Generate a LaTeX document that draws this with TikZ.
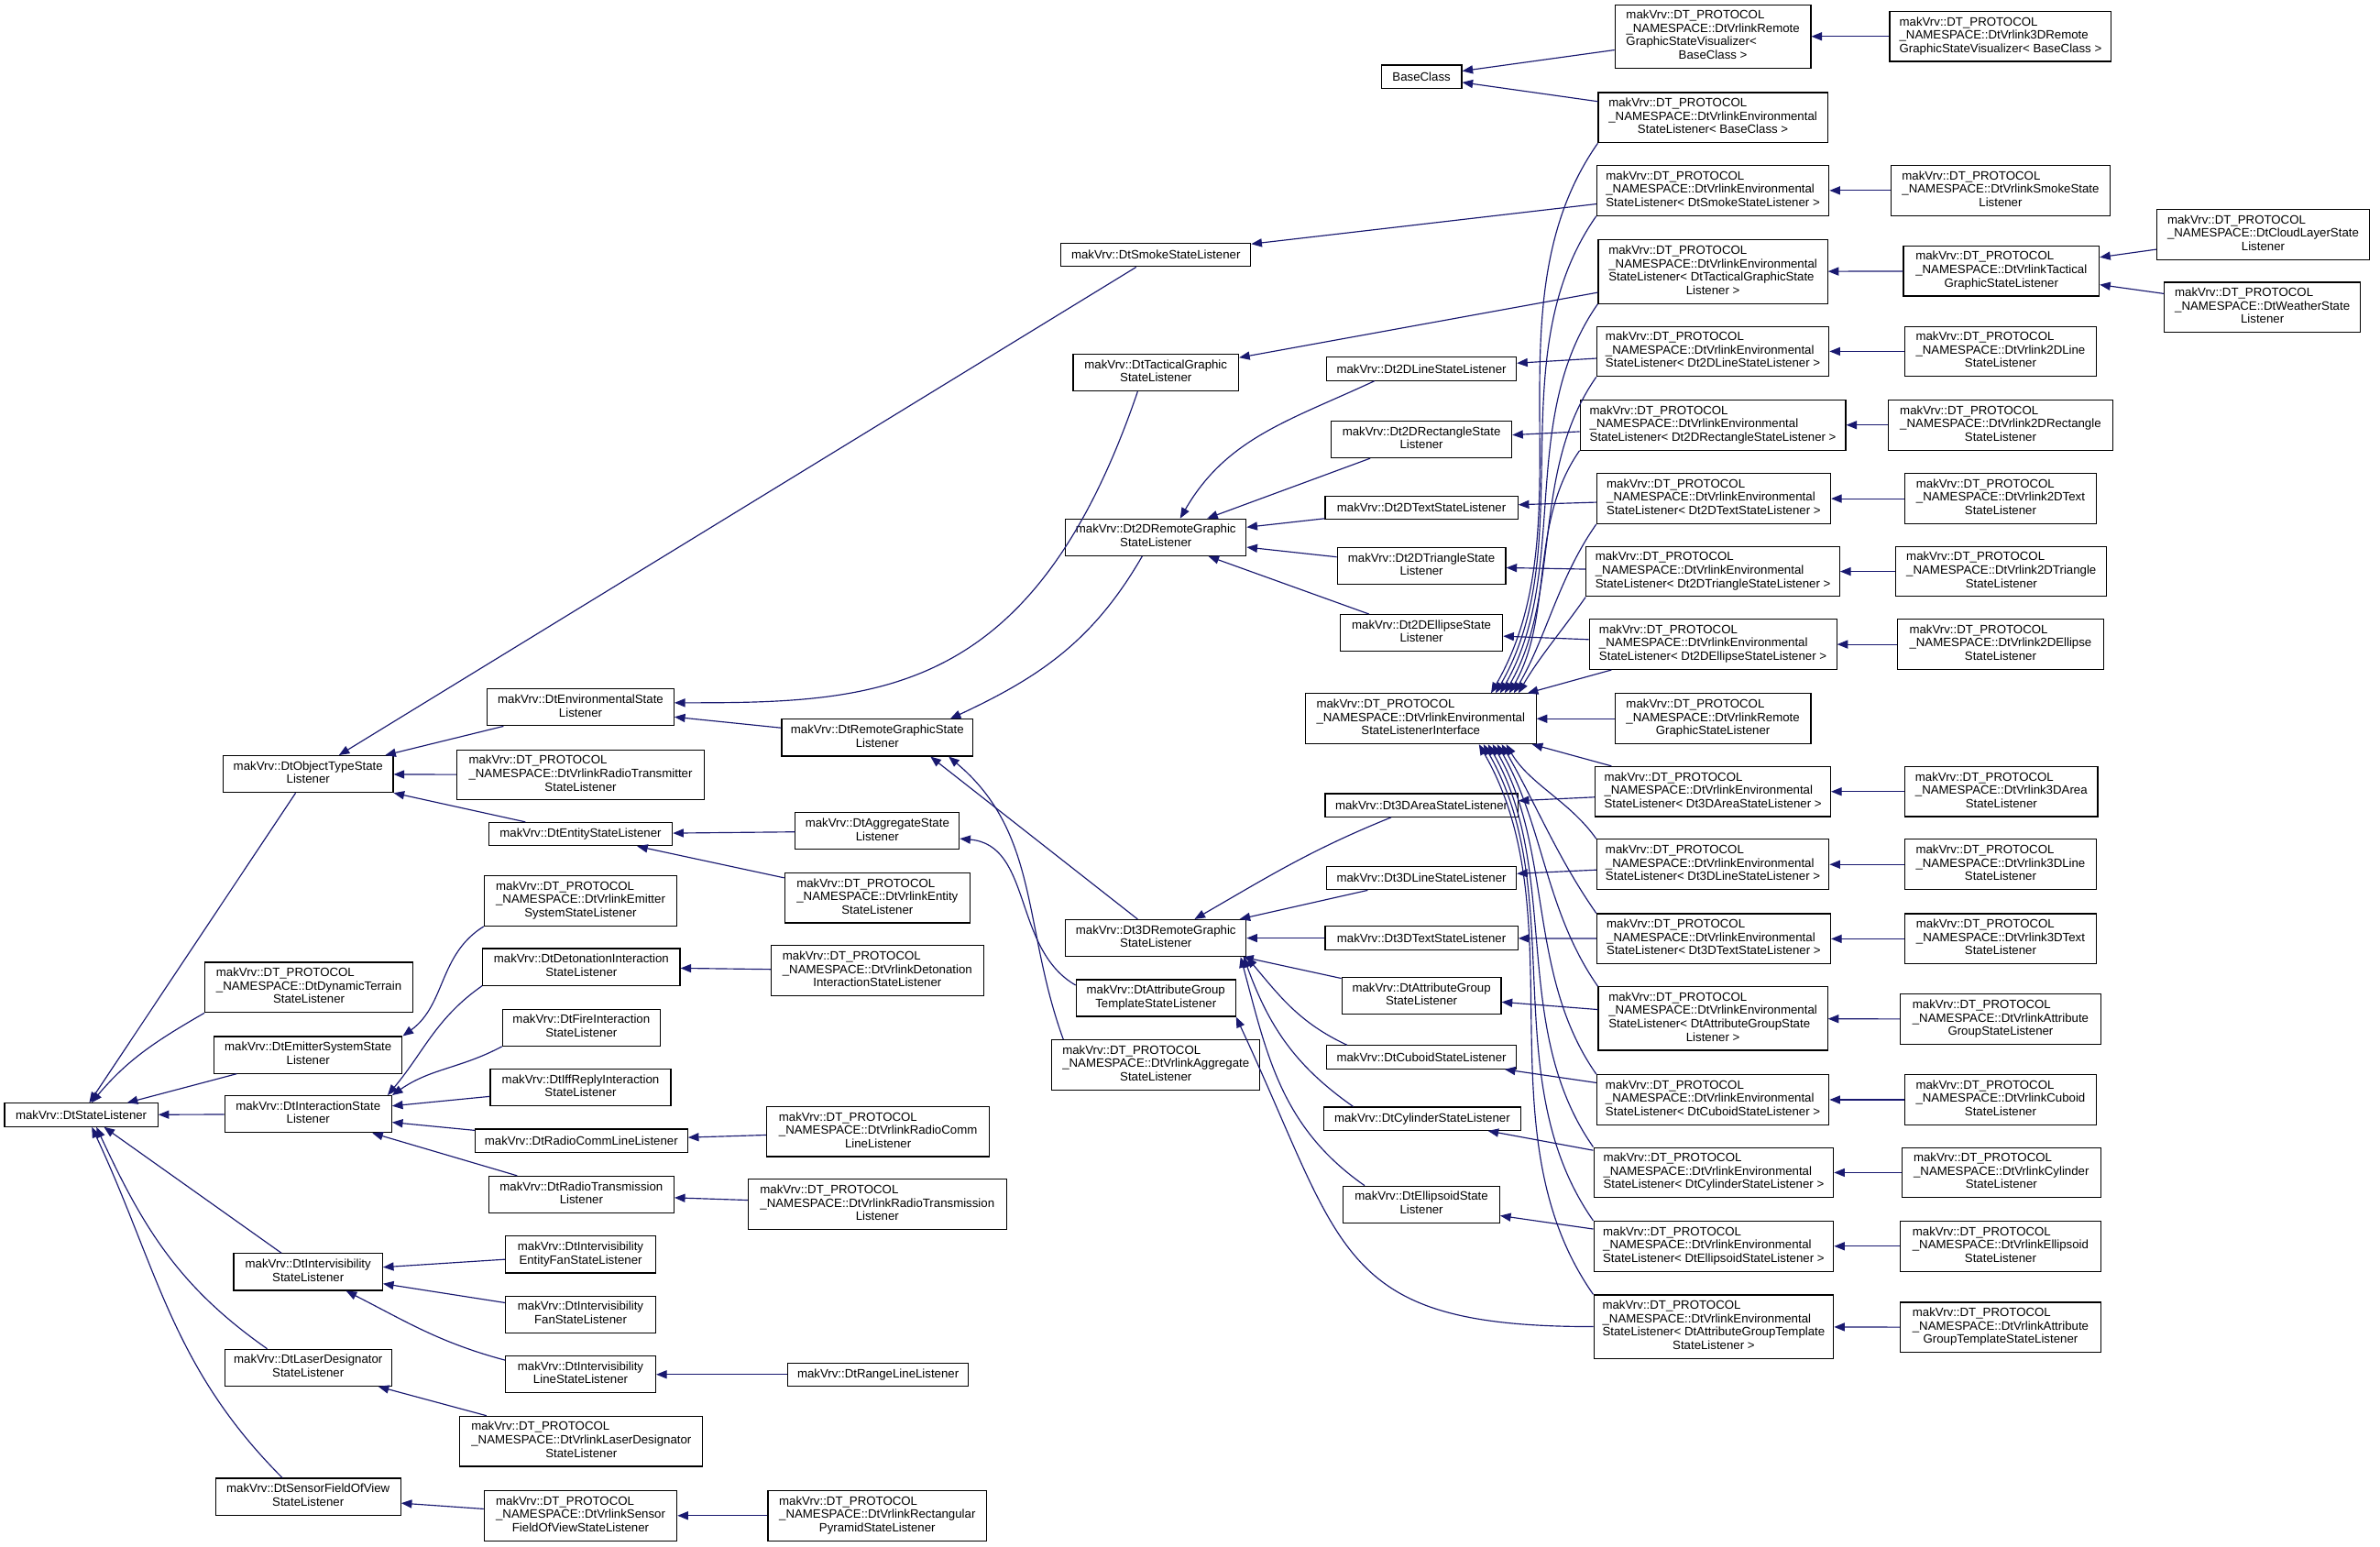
\documentclass[tikz,border=0pt]{standalone}
\usepackage{fontspec}
\setmainfont{Liberation Sans}
\usetikzlibrary{arrows.meta}
\definecolor{midnight}{RGB}{25,25,112}
\newcommand{\clsfont}{\fontsize{8pt}{8.8pt}\selectfont}
\newcommand{\dtp}{makVrv::DT\_PROTOCOL\\\_NAMESPACE::}
\newcommand{\lbl}[2]{\begin{tabular}{@{}l@{}}#1\\\multicolumn{1}{@{}c@{}}{#2}\end{tabular}}
\newcommand{\envl}[1]{\lbl{\dtp DtVrlinkEnvironmental}{#1}}
\tikzset{
  cls/.style={draw, fill=white, line width=0.7pt, inner xsep=2pt, inner ysep=3.3pt, minimum height=15.3pt, font=\clsfont},
  inh/.style={draw=midnight, line width=0.7pt, -{Triangle[length=7pt,width=5.5pt]}},
  fandown/.style={out=235, in=60, looseness=0.9},
  fanup/.style={out=125, in=-60, looseness=0.9},
}
\begin{document}
\begin{tikzpicture}[x=1pt, y=-1pt]
\useasboundingbox (0,0) rectangle (1568,1019);
\node[cls, minimum width=101pt] (stateL) at (53.5,734.5) {makVrv::DtStateListener};
\node[cls, minimum width=112pt] (objType) at (203,510) {\lbl{makVrv::DtObjectTypeState}{Listener}};
\node[cls, minimum width=137pt] (dynTerrain) at (203.5,650.5) {\lbl{\dtp DtDynamicTerrain}{StateListener}};
\node[cls, minimum width=124pt] (emitter) at (203,695) {\lbl{makVrv::DtEmitterSystemState}{Listener}};
\node[cls, minimum width=110pt] (interaction) at (203,734) {\lbl{makVrv::DtInteractionState}{Listener}};
\node[cls, minimum width=98pt] (intervis) at (203,838) {\lbl{makVrv::DtIntervisibility}{StateListener}};
\node[cls, minimum width=110pt] (laser) at (203,901) {\lbl{makVrv::DtLaserDesignator}{StateListener}};
\node[cls, minimum width=122pt] (sensor) at (203,986) {\lbl{makVrv::DtSensorFieldOfView}{StateListener}};
\node[cls, minimum width=123pt] (envState) at (382.5,466) {\lbl{makVrv::DtEnvironmentalState}{Listener}};
\node[cls, minimum width=163pt] (radioTx) at (382.5,510.5) {\lbl{\dtp DtVrlinkRadioTransmitter}{StateListener}};
\node[cls, minimum width=121pt] (entityState) at (382.5,549.5) {makVrv::DtEntityStateListener};
\node[cls, minimum width=127pt] (vrlEmitter) at (382.5,593.5) {\lbl{\dtp DtVrlinkEmitter}{SystemStateListener}};
\node[cls, minimum width=130pt] (detonation) at (383,637) {\lbl{makVrv::DtDetonationInteraction}{StateListener}};
\node[cls, minimum width=104pt] (fire) at (383,677) {\lbl{makVrv::DtFireInteraction}{StateListener}};
\node[cls, minimum width=119pt] (iff) at (382.5,716.5) {\lbl{makVrv::DtIffReplyInteraction}{StateListener}};
\node[cls, minimum width=140pt] (radioComm) at (383,751.5) {makVrv::DtRadioCommLineListener};
\node[cls, minimum width=122pt] (radioTrans) at (383,787) {\lbl{makVrv::DtRadioTransmission}{Listener}};
\node[cls, minimum width=99pt] (ivEntityFan) at (382.5,826.5) {\lbl{makVrv::DtIntervisibility}{EntityFanStateListener}};
\node[cls, minimum width=99pt] (ivFan) at (382.5,866) {\lbl{makVrv::DtIntervisibility}{FanStateListener}};
\node[cls, minimum width=99pt] (ivLine) at (382.5,905.5) {\lbl{makVrv::DtIntervisibility}{LineStateListener}};
\node[cls, minimum width=160pt] (vrlLaser) at (383,949.5) {\lbl{\dtp DtVrlinkLaserDesignator}{StateListener}};
\node[cls, minimum width=127pt] (vrlSensor) at (382.5,998.5) {\lbl{\dtp DtVrlinkSensor}{FieldOfViewStateListener}};
\node[cls, minimum width=126pt] (remoteGraphic) at (578,486) {\lbl{makVrv::DtRemoteGraphicState}{Listener}};
\node[cls, minimum width=108pt] (aggState) at (578,547.5) {\lbl{makVrv::DtAggregateState}{Listener}};
\node[cls, minimum width=122pt] (vrlEntity) at (578,591.5) {\lbl{\dtp DtVrlinkEntity}{StateListener}};
\node[cls, minimum width=140pt] (vrlDetonation) at (578,639.5) {\lbl{\dtp DtVrlinkDetonation}{InteractionStateListener}};
\node[cls, minimum width=147pt] (vrlRadioComm) at (578.5,745.5) {\lbl{\dtp DtVrlinkRadioComm}{LineListener}};
\node[cls, minimum width=170pt] (vrlRadioTrans) at (578,793.5) {\lbl{\dtp DtVrlinkRadioTransmission}{Listener}};
\node[cls, minimum width=119pt] (rangeLine) at (578.5,905.5) {makVrv::DtRangeLineListener};
\node[cls, minimum width=144pt] (vrlRectPyr) at (578,998.5) {\lbl{\dtp DtVrlinkRectangular}{PyramidStateListener}};
\node[cls, minimum width=125pt] (smokeState) at (761.5,168) {makVrv::DtSmokeStateListener};
\node[cls, minimum width=109pt] (tactical) at (761.5,245.5) {\lbl{makVrv::DtTacticalGraphic}{StateListener}};
\node[cls, minimum width=119pt] (dt2DRemote) at (761.5,354) {\lbl{makVrv::Dt2DRemoteGraphic}{StateListener}};
\node[cls, minimum width=119pt] (dt3DRemote) at (761.5,618) {\lbl{makVrv::Dt3DRemoteGraphic}{StateListener}};
\node[cls, minimum width=105pt] (attrTemplate) at (761.5,657.5) {\lbl{makVrv::DtAttributeGroup}{TemplateStateListener}};
\node[cls, minimum width=137pt] (vrlAggregate) at (761.5,701.5) {\lbl{\dtp DtVrlinkAggregate}{StateListener}};
\node[cls, minimum width=53pt] (baseClass) at (936.5,50.5) {BaseClass};
\node[cls, minimum width=125pt] (dt2DLine) at (936.5,243) {makVrv::Dt2DLineStateListener};
\node[cls, minimum width=119pt] (dt2DRect) at (936.5,289.5) {\lbl{makVrv::Dt2DRectangleState}{Listener}};
\node[cls, minimum width=127pt] (dt2DText) at (936.5,334.5) {makVrv::Dt2DTextStateListener};
\node[cls, minimum width=111pt] (dt2DTri) at (936.5,373) {\lbl{makVrv::Dt2DTriangleState}{Listener}};
\node[cls, minimum width=107pt] (dt2DEllipse) at (936.5,417) {\lbl{makVrv::Dt2DEllipseState}{Listener}};
\node[cls, minimum width=152pt] (envIf) at (936,473.5) {\lbl{\dtp DtVrlinkEnvironmental}{StateListenerInterface}};
\node[cls, minimum width=127pt] (dt3DArea) at (936.5,530.5) {makVrv::Dt3DAreaStateListener};
\node[cls, minimum width=125pt] (dt3DLine) at (936.5,578.5) {makVrv::Dt3DLineStateListener};
\node[cls, minimum width=127pt] (dt3DText) at (936.5,618) {makVrv::Dt3DTextStateListener};
\node[cls, minimum width=105pt] (attrGroup) at (936.5,656) {\lbl{makVrv::DtAttributeGroup}{StateListener}};
\node[cls, minimum width=125pt] (cuboid) at (936.5,696.5) {makVrv::DtCuboidStateListener};
\node[cls, minimum width=130pt] (cylinder) at (937,737) {makVrv::DtCylinderStateListener};
\node[cls, minimum width=103pt] (ellipsoid) at (936.5,793.5) {\lbl{makVrv::DtEllipsoidState}{Listener}};
\node[cls, minimum width=129pt] (vrlRemoteGSV) at (1128.5,24) {\lbl{\dtp DtVrlinkRemote\\GraphicStateVisualizer<}{BaseClass >}};
\node[cls, minimum width=151pt] (envBase) at (1128.5,77.5) {\envl{StateListener< BaseClass >}};
\node[cls, minimum width=153pt] (envSmoke) at (1128.5,125.5) {\envl{StateListener< DtSmokeStateListener >}};
\node[cls, minimum width=151pt] (envTactical) at (1128.5,179) {\lbl{\dtp DtVrlinkEnvironmental\\StateListener< DtTacticalGraphicState}{Listener >}};
\node[cls, minimum width=153pt] (env2DLine) at (1128.5,231.5) {\envl{StateListener< Dt2DLineStateListener >}};
\node[cls, minimum width=175pt] (env2DRect) at (1128.5,280) {\envl{StateListener< Dt2DRectangleStateListener >}};
\node[cls, minimum width=154pt] (env2DText) at (1129,328.5) {\envl{StateListener< Dt2DTextStateListener >}};
\node[cls, minimum width=167pt] (env2DTri) at (1128.5,376.5) {\envl{StateListener< Dt2DTriangleStateListener >}};
\node[cls, minimum width=163pt] (env2DEllipse) at (1128.5,424.5) {\envl{StateListener< Dt2DEllipseStateListener >}};
\node[cls, minimum width=129pt] (vrlRemoteGSL) at (1128.5,473.5) {\lbl{\dtp DtVrlinkRemote}{GraphicStateListener}};
\node[cls, minimum width=155pt] (env3DArea) at (1128.5,521.5) {\envl{StateListener< Dt3DAreaStateListener >}};
\node[cls, minimum width=153pt] (env3DLine) at (1128.5,569.5) {\envl{StateListener< Dt3DLineStateListener >}};
\node[cls, minimum width=154pt] (env3DText) at (1129,618.5) {\envl{StateListener< Dt3DTextStateListener >}};
\node[cls, minimum width=151pt] (envAttrGroup) at (1128.5,671) {\lbl{\dtp DtVrlinkEnvironmental\\StateListener< DtAttributeGroupState}{Listener >}};
\node[cls, minimum width=153pt] (envCuboid) at (1128.5,724.5) {\envl{StateListener< DtCuboidStateListener >}};
\node[cls, minimum width=158pt] (envCylinder) at (1129,772.5) {\envl{StateListener< DtCylinderStateListener >}};
\node[cls, minimum width=158pt] (envEllipsoid) at (1129,821) {\envl{StateListener< DtEllipsoidStateListener >}};
\node[cls, minimum width=158pt] (envAttrTemplate) at (1129,874) {\lbl{\dtp DtVrlinkEnvironmental\\StateListener< DtAttributeGroupTemplate}{StateListener >}};
\node[cls, minimum width=146pt] (vrl3DRemoteGSV) at (1318,24) {\lbl{\dtp DtVrlink3DRemote}{GraphicStateVisualizer< BaseClass >}};
\node[cls, minimum width=144pt] (vrlSmoke) at (1318,125.5) {\lbl{\dtp DtVrlinkSmokeState}{Listener}};
\node[cls, minimum width=129pt] (vrlTactical) at (1318.5,178.5) {\lbl{\dtp DtVrlinkTactical}{GraphicStateListener}};
\node[cls, minimum width=126pt] (vrl2DLine) at (1318,231.5) {\lbl{\dtp DtVrlink2DLine}{StateListener}};
\node[cls, minimum width=148pt] (vrl2DRect) at (1318,280) {\lbl{\dtp DtVrlink2DRectangle}{StateListener}};
\node[cls, minimum width=126pt] (vrl2DText) at (1318,328.5) {\lbl{\dtp DtVrlink2DText}{StateListener}};
\node[cls, minimum width=139pt] (vrl2DTri) at (1318.5,376.5) {\lbl{\dtp DtVrlink2DTriangle}{StateListener}};
\node[cls, minimum width=136pt] (vrl2DEllipse) at (1318,424.5) {\lbl{\dtp DtVrlink2DEllipse}{StateListener}};
\node[cls, minimum width=127pt] (vrl3DArea) at (1318.5,521.5) {\lbl{\dtp DtVrlink3DArea}{StateListener}};
\node[cls, minimum width=126pt] (vrl3DLine) at (1318,569.5) {\lbl{\dtp DtVrlink3DLine}{StateListener}};
\node[cls, minimum width=126pt] (vrl3DText) at (1318,618.5) {\lbl{\dtp DtVrlink3DText}{StateListener}};
\node[cls, minimum width=132pt] (vrlAttrGroup) at (1318,671.5) {\lbl{\dtp DtVrlinkAttribute}{GroupStateListener}};
\node[cls, minimum width=126pt] (vrlCuboid) at (1318,724.5) {\lbl{\dtp DtVrlinkCuboid}{StateListener}};
\node[cls, minimum width=131pt] (vrlCylinder) at (1318.5,772.5) {\lbl{\dtp DtVrlinkCylinder}{StateListener}};
\node[cls, minimum width=132pt] (vrlEllipsoid) at (1318,821) {\lbl{\dtp DtVrlinkEllipsoid}{StateListener}};
\node[cls, minimum width=132pt] (vrlAttrTemplate) at (1318,874.5) {\lbl{\dtp DtVrlinkAttribute}{GroupTemplateStateListener}};
\node[cls, minimum width=140pt] (cloudLayer) at (1491,154.5) {\lbl{\dtp DtCloudLayerState}{Listener}};
\node[cls, minimum width=129pt] (weather) at (1490.5,202.5) {\lbl{\dtp DtWeatherState}{Listener}};
\draw[inh] (objType) -- (stateL);
\draw[inh] (dynTerrain.south west) to[out=210,in=50] (stateL);
\draw[inh] (emitter) -- (stateL);
\draw[inh] (interaction) -- (stateL);
\draw[inh] (intervis) -- ([xshift=15pt]stateL.south);
\draw[inh] ([xshift=-27pt]laser.north) to[out=145,in=-65] ([xshift=10pt]stateL.south);
\draw[inh] ([xshift=-17pt]sensor.north) to[out=135,in=-65] ([xshift=7pt]stateL.south);
\draw[inh] (envState) -- (objType);
\draw[inh] (radioTx) -- (objType);
\draw[inh] (entityState) -- (objType);
\draw[inh] (smokeState) -- (objType);
\draw[inh] (vrlEmitter.south west) to[out=212,in=36] (emitter.north east);
\draw[inh] (detonation.south west) to[out=215,in=50] ([xshift=-3pt]interaction.north east);
\draw[inh] (fire.south west) to[out=208,in=35] (interaction.north east);
\draw[inh] (iff) -- (interaction);
\draw[inh] (radioComm) -- (interaction);
\draw[inh] (radioTrans) -- (interaction);
\draw[inh] (ivEntityFan) -- (intervis);
\draw[inh] (ivFan) -- (intervis);
\draw[inh] ([yshift=-3pt]ivLine.north west) to[out=165,in=-27] ([xshift=25pt]intervis.south);
\draw[inh] (vrlLaser) -- (laser);
\draw[inh] (vrlSensor) -- (sensor);
\draw[inh] ([xshift=-12pt]tactical.south) .. controls +(-69,202) and +(134,0) .. ([yshift=3pt]envState.east);
\draw[inh] (remoteGraphic) -- (envState);
\draw[inh] (aggState) -- (entityState);
\draw[inh] (vrlEntity) -- (entityState);
\draw[inh] (vrlDetonation) -- (detonation);
\draw[inh] (vrlRadioComm) -- (radioComm);
\draw[inh] (vrlRadioTrans) -- (radioTrans);
\draw[inh] (rangeLine) -- (ivLine);
\draw[inh] (vrlRectPyr) -- (vrlSensor);
\draw[inh] ([xshift=-9pt]dt2DRemote.south) to[out=240,in=25] ([xshift=48pt]remoteGraphic.north);
\draw[inh] ([xshift=-12pt]dt3DRemote.north) -- ([xshift=35pt]remoteGraphic.south);
\draw[inh] ([xshift=-61pt]vrlAggregate.north) to[out=110,in=-40] ([xshift=47pt]remoteGraphic.south);
\draw[inh] ([yshift=-4pt]attrTemplate.north west) to[out=150,in=-5] ([yshift=-5pt]aggState.east);
\draw[inh] (envAttrTemplate.west) to[out=180,in=-65,looseness=1.4] (attrTemplate.south east);
\draw[inh] ([xshift=-31pt]dt2DLine.south) to[out=205,in=60] ([xshift=16pt]dt2DRemote.north);
\draw[inh] (dt2DRect) -- (dt2DRemote);
\draw[inh] (dt2DText) -- (dt2DRemote);
\draw[inh] (dt2DTri) -- (dt2DRemote);
\draw[inh] (dt2DEllipse) -- (dt2DRemote);
\draw[inh] ([xshift=-20pt]dt3DArea.south) to[out=202,in=30] ([xshift=25.5pt]dt3DRemote.north);
\draw[inh] (dt3DLine) -- (dt3DRemote);
\draw[inh] (dt3DText) -- (dt3DRemote);
\draw[inh] (attrGroup) -- (dt3DRemote);
\draw[inh] ([xshift=-49pt]cuboid.north) to[out=155,in=-50] (dt3DRemote.south east);
\draw[inh] ([xshift=-45.5pt]cylinder.north) to[out=145,in=-70] ([xshift=-2pt]dt3DRemote.south east);
\draw[inh] ([xshift=-37.5pt]ellipsoid.north) to[out=145,in=-75] ([xshift=-4pt]dt3DRemote.south east);
\draw[inh] (envBase) -- (baseClass);
\draw[inh] (vrlRemoteGSV) -- (baseClass);
\draw[inh] (vrl3DRemoteGSV) -- (vrlRemoteGSV);
\draw[inh] (envSmoke) -- (smokeState);
\draw[inh] (envTactical) -- (tactical);
\draw[inh] (env2DLine) -- (dt2DLine);
\draw[inh] (env2DRect) -- (dt2DRect);
\draw[inh] (env2DText) -- (dt2DText);
\draw[inh] (env2DTri) -- (dt2DTri);
\draw[inh] (env2DEllipse) -- (dt2DEllipse);
\draw[inh] (env3DArea) -- (dt3DArea);
\draw[inh] (env3DLine) -- (dt3DLine);
\draw[inh] (env3DText) -- (dt3DText);
\draw[inh] (envAttrGroup) -- (attrGroup);
\draw[inh] (envCuboid) -- (cuboid);
\draw[inh] (envCylinder) -- (cylinder);
\draw[inh] (envEllipsoid) -- (ellipsoid);
\draw[inh] (envBase.south west) to[fandown] ([xshift=-30pt]envIf.north east);
\draw[inh] (envSmoke.south west) to[fandown] ([xshift=-27pt]envIf.north east);
\draw[inh] (envTactical.south west) to[fandown] ([xshift=-24pt]envIf.north east);
\draw[inh] (env2DLine.south west) to[fandown] ([xshift=-21pt]envIf.north east);
\draw[inh] (env2DRect.south west) to[fandown] ([xshift=-18pt]envIf.north east);
\draw[inh] (env2DText.south west) to[fandown] ([xshift=-15pt]envIf.north east);
\draw[inh] (env2DTri.south west) to[fandown] ([xshift=-12pt]envIf.north east);
\draw[inh] ([xshift=15pt]env2DEllipse.south west) -- ([xshift=-6pt]envIf.north east);
\draw[inh] (vrlRemoteGSL) -- (envIf);
\draw[inh] ([xshift=11pt]env3DArea.north west) -- ([xshift=-3pt]envIf.south east);
\draw[inh] (env3DLine.north west) to[fanup] ([xshift=-20pt]envIf.south east);
\draw[inh] (env3DText.north west) to[fanup] ([xshift=-23pt]envIf.south east);
\draw[inh] (envAttrGroup.north west) to[fanup] ([xshift=-26pt]envIf.south east);
\draw[inh] (envCuboid.north west) to[fanup] ([xshift=-29pt]envIf.south east);
\draw[inh] (envCylinder.north west) to[fanup] ([xshift=-32pt]envIf.south east);
\draw[inh] (envEllipsoid.north west) to[fanup] ([xshift=-35pt]envIf.south east);
\draw[inh] (envAttrTemplate.north west) to[fanup] ([xshift=-38pt]envIf.south east);
\draw[inh] (vrlSmoke) -- (envSmoke);
\draw[inh] (vrlTactical) -- (envTactical);
\draw[inh] (cloudLayer) -- (vrlTactical);
\draw[inh] (weather) -- (vrlTactical);
\draw[inh] (vrl2DLine) -- (env2DLine);
\draw[inh] (vrl2DRect) -- (env2DRect);
\draw[inh] (vrl2DText) -- (env2DText);
\draw[inh] (vrl2DTri) -- (env2DTri);
\draw[inh] (vrl2DEllipse) -- (env2DEllipse);
\draw[inh] (vrl3DArea) -- (env3DArea);
\draw[inh] (vrl3DLine) -- (env3DLine);
\draw[inh] (vrl3DText) -- (env3DText);
\draw[inh] (vrlAttrGroup) -- (envAttrGroup);
\draw[inh] (vrlCuboid) -- (envCuboid);
\draw[inh] (vrlCylinder) -- (envCylinder);
\draw[inh] (vrlEllipsoid) -- (envEllipsoid);
\draw[inh] (vrlAttrTemplate) -- (envAttrTemplate);
\end{tikzpicture}
\end{document}
